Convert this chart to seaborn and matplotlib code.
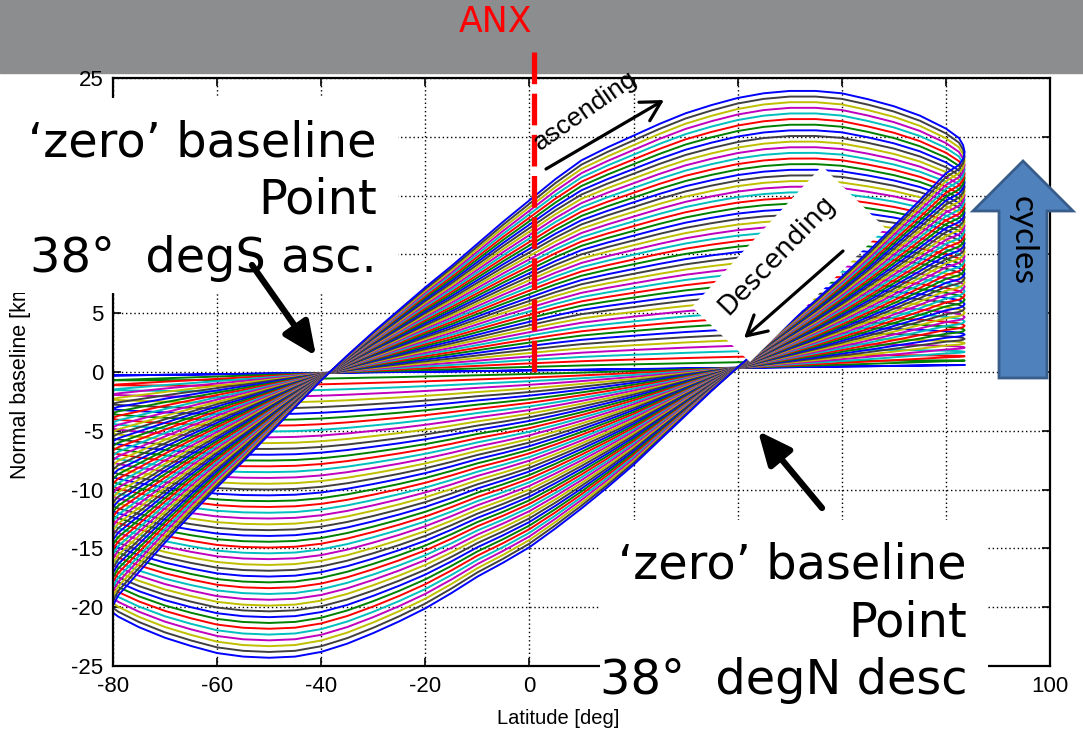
import numpy as np
import pandas as pd
import matplotlib
matplotlib.use("Agg")
import matplotlib.pyplot as plt
from matplotlib.patches import Rectangle, Polygon, FancyArrowPatch
import seaborn as sns

# Outer loop (last cycle): ascending pass, then descending pass
asc_lat = [-80.5, -79, -75, -70, -65, -60, -55, -50, -45, -40, -35, -30, -25, -20, -15, -10, -5, 0,
           5, 10, 15, 20, 25, 30, 35, 40, 45, 50, 55, 60, 65, 70, 75, 80, 82.5, 83.3, 83.6]
outer_asc = [-20.3, -19.0, -17.0, -14.5, -12.1, -9.8, -7.6, -5.3, -3.0, -0.7, 1.4, 3.4, 5.3, 7.2, 9.0, 10.9, 12.8, 14.6,
             16.4, 18.0, 19.1, 20.1, 21.1, 22.0, 22.7, 23.3, 23.7, 23.9, 23.9, 23.7, 23.2, 22.6, 21.8, 20.7, 19.9, 19.3,
             18.7]
desc_lat = asc_lat[::-1]
outer_desc = [18.7, 18.1, 17.6, 16.9, 14.6, 12.4, 10.2, 8.1, 6.1, 4.2, 2.3, 0.4, -1.6, -3.7, -5.8, -7.9, -9.8, -11.6,
              -13.3, -14.9, -16.2, -17.4, -18.8, -20.1, -21.2, -22.2, -23.1, -23.8, -24.2, -24.3, -24.2, -23.9, -23.3,
              -22.6, -21.7, -20.8, -20.3]
# First cycle: an almost flat line around zero
inner_asc = [-0.30, -0.29, -0.27, -0.24, -0.22, -0.19, -0.16, -0.13, -0.11, -0.08, -0.05, -0.02, 0.00, 0.03, 0.05,
             0.08, 0.11, 0.14, 0.16, 0.19, 0.22, 0.25, 0.27, 0.30, 0.33, 0.36, 0.38, 0.41, 0.44, 0.47, 0.49, 0.52,
             0.55, 0.58, 0.59, 0.60, 0.60]
inner_desc = inner_asc[::-1]

cycles = list(range(50))
matlab_colors = ['#0000ff', '#008000', '#ff0000', '#00bfbf', '#bf00bf', '#bfbf00', '#404040']
anx_lat = 0.8

xticks = [-80, -60, -40, -20, 0, 20, 40, 60, 80, 100]
yticks = [-25, -20, -15, -10, -5, 0, 5, 10, 15, 20, 25]
# labels hidden under the white text boxes are left blank
xtick_labels = ['-80', '-60', '-40', '-20', '0', '', '', '', '', '100']
ytick_labels = ['-25', '-20', '-15', '-10', '-5', '0', '5', '', '', '', '25']

# Build one loop per cycle between first and last cycle
lat = np.array(asc_lat + desc_lat)
outer = np.array(outer_asc + outer_desc)
inner = np.array(inner_asc + inner_desc)
frames = []
for c in cycles:
    frac = c / cycles[-1]
    frames.append(pd.DataFrame({'lat': lat, 'baseline': inner + frac * (outer - inner), 'cycle': c}))
df = pd.concat(frames, ignore_index=True)
palette = [matlab_colors[c % 7] for c in cycles]

plt.rcParams['axes.unicode_minus'] = False
W, H = 1083, 729


def fx(x, y):
    # image pixel -> figure fraction
    return x / W, 1 - y / H


fig = plt.figure(figsize=(W / 100, H / 100), dpi=100)
ax = fig.add_axes([113 / W, 1 - 666 / H, 937 / W, 588 / H])

sns.lineplot(data=df, x='lat', y='baseline', hue='cycle', palette=palette, sort=False,
             estimator=None, legend=False, linewidth=1.4, ax=ax)

ax.set_xlim(-80, 100)
ax.set_ylim(-25, 25)
ax.set_xticks(xticks, xtick_labels, family='Liberation Sans', fontsize=16)
ax.set_yticks(yticks, ytick_labels, family='Liberation Sans', fontsize=16)
ax.grid(True, color='k', linestyle=(0, (1, 2)), linewidth=1.0)
ax.set_axisbelow(True)
for s in ax.spines.values():
    s.set_linewidth(1.6)
    s.set_color('k')
ax.tick_params(direction='in', top=True, right=True, length=6, width=1.2, pad=7)
ax.set_xlabel('')
ax.set_ylabel('Normal baseline [km]', family='Liberation Sans', fontsize=15.5)
ax.yaxis.set_label_coords((31 - 113) / 937, 0.49)

# ANX marker
ax.plot([anx_lat, anx_lat], [27.2, 0], color='red', lw=3.8, dashes=(6, 1.8), clip_on=False, zorder=5)

# grey title band
fig.add_artist(Rectangle(fx(0, 73), 1, 73 / H, transform=fig.transFigure, color='#8c8d8f', zorder=-1))
fig.text(*fx(495, 22), 'ANX', color='red', fontsize=25, ha='center', va='center', family='DejaVu Sans')

# white label boxes
fig.add_artist(Rectangle(fx(0, 293), 398 / W, 195 / H, transform=fig.transFigure,
                         facecolor='white', edgecolor='none', zorder=3))
fig.add_artist(Rectangle(fx(600, 729), 388 / W, 209 / H, transform=fig.transFigure,
                         facecolor='white', edgecolor='none', zorder=3))
fig.add_artist(Polygon([fx(692, 307), fx(822, 166), fx(885, 228), fx(750, 362)], closed=True,
                       transform=fig.transFigure, facecolor='white', edgecolor='none', zorder=3))

# x label sits over the lower box
fig.text(*fx(558, 719), 'Latitude [deg]', family='Liberation Sans', fontsize=14.5,
         ha='center', va='center', zorder=4)

big = dict(fontsize=34.5, family='DejaVu Sans', ha='right', va='baseline', zorder=4)
for txt, yb in zip(['\u2018zero\u2019 baseline', 'Point', '38\u00b0  degS asc.'], [156.7, 213.3, 271.7]):
    fig.text(*fx(377, yb), txt, **big)
for txt, yb in zip(['\u2018zero\u2019 baseline', 'Point', '38\u00b0  degN desc'], [578.3, 636.7, 694.5]):
    fig.text(*fx(967, yb), txt, **big)

# arrows
for a, b in [((252, 265), (316, 356)), ((822, 508), (758, 431))]:
    fig.add_artist(FancyArrowPatch(fx(*a), fx(*b), transform=fig.transFigure, color='k', lw=4.5,
                                   arrowstyle='-|>,head_length=1.0,head_width=0.45', mutation_scale=20,
                                   shrinkA=0, shrinkB=0, zorder=6))
for a, b in [((546, 169), (664, 100)), ((843, 251), (744, 338))]:
    fig.add_artist(FancyArrowPatch(fx(*a), fx(*b), transform=fig.transFigure, color='k', lw=2.3,
                                   arrowstyle='->,head_length=1.0,head_width=0.55', mutation_scale=14,
                                   shrinkA=0, shrinkB=0, zorder=6))

fig.text(*fx(585, 111), 'ascending', rotation=35, rotation_mode='anchor', ha='center', va='center',
         fontsize=19, family='Liberation Sans', zorder=5)
fig.text(*fx(777, 255), 'Descending', rotation=46, rotation_mode='anchor', ha='center', va='center',
         fontsize=19, family='DejaVu Sans', zorder=5)

# cycles block arrow
fig.add_artist(Polygon([fx(1023, 161), fx(1073, 211), fx(1047, 211), fx(1047, 378), fx(999, 378),
                        fx(999, 211), fx(973, 211)], closed=True, transform=fig.transFigure,
                       facecolor='#4f81bd', edgecolor='#385d8a', lw=2, zorder=5))
fig.text(*fx(1023, 240), 'cycles', rotation=270, rotation_mode='anchor', ha='center', va='center',
         fontsize=24, family='Lato', zorder=6)

fig.savefig('out.png', dpi=100)
